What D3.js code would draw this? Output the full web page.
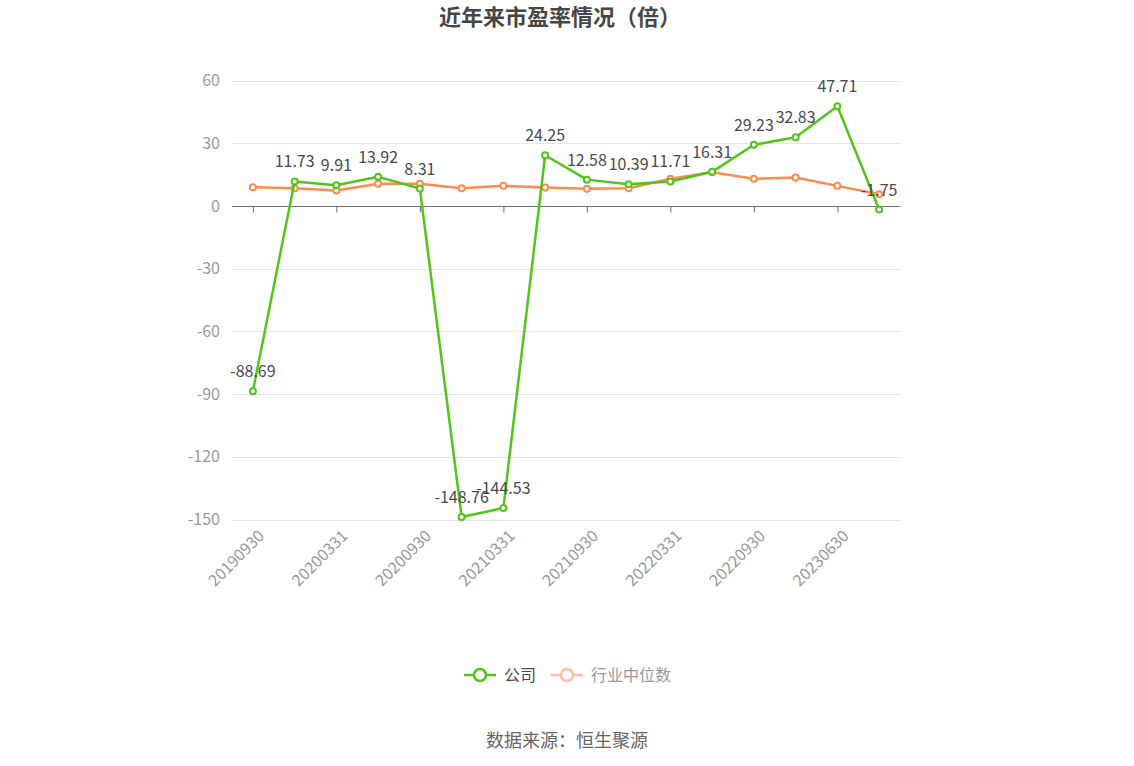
<!DOCTYPE html>
<html>
<head>
<meta charset="utf-8">
<script src="https://cdn.jsdelivr.net/npm/d3@7"></script>
<style>
    body { margin: 0; background: #fff; font-family: "Noto Sans CJK SC", "Noto Sans", sans-serif; }
    svg { display: block; }
</style>
</head>
<body>
<script>
// periods (only every other one is labelled on the axis)
const periods = ["20190930", "20191231", "20200331", "20200630", "20200930", "20201231",
    "20210331", "20210630", "20210930", "20211231", "20220331", "20220630",
    "20220930", "20230331", "20230630", "20230930"];

// company PE
const company = [-88.69, 11.73, 9.91, 13.92, 8.31, -148.76, -144.53, 24.25,
    12.58, 10.39, 11.71, 16.31, 29.23, 32.83, 47.71, -1.75];

// industry median PE
const median = [8.9, 8.5, 7.4, 10.6, 10.6, 8.5, 9.6, 8.8,
    8.2, 8.5, 13.0, 16.1, 13.0, 13.6, 9.6, 5.6];

const yTicks = [-150, -120, -90, -60, -30, 0, 30, 60];

const width = 1134,
    height = 766;

const plotLeft = 232, plotRight = 900, plotTop = 80.5, plotBottom = 519.5;

const svg = d3.select("body").append("svg")
    .attr("width", width)
    .attr("height", height);

const x = d3.scalePoint()
    .domain(periods)
    .range([plotLeft, plotRight])
    .padding(0.5);

const y = d3.scaleLinear()
    .domain([-150, 60])
    .range([plotBottom, plotTop]);

// title
svg.append("text")
    .attr("x", 560)
    .attr("y", 25)
    .attr("text-anchor", "middle")
    .style("font-size", "22px")
    .style("font-weight", "bold")
    .style("fill", "#464646")
    .text("近年来市盈率情况（倍）");

// grid lines
svg.append("g")
    .selectAll("line")
    .data(yTicks.filter(d => d !== 0))
    .enter().append("line")
    .attr("x1", plotLeft)
    .attr("x2", plotRight)
    .attr("y1", d => Math.round(y(d)) + 0.5)
    .attr("y2", d => Math.round(y(d)) + 0.5)
    .attr("stroke", "#e0e6f1")
    .attr("stroke-width", 1);

// y axis labels
svg.append("g")
    .selectAll("text")
    .data(yTicks)
    .enter().append("text")
    .attr("x", plotLeft - 12)
    .attr("y", d => y(d))
    .attr("dy", "0.35em")
    .attr("text-anchor", "end")
    .style("font-size", "16px")
    .style("fill", "#999")
    .text(d => d);

// x axis on zero
const xAxis = d3.axisBottom(x)
    .tickValues(periods.filter((d, i) => i % 2 === 0))
    .tickSize(6)
    .tickFormat("");

const gx = svg.append("g")
    .attr("transform", `translate(0,${Math.round(y(0)) + 0.5})`)
    .call(xAxis);
gx.select(".domain").attr("stroke", "#6e7079").attr("d", `M${plotLeft},0H${plotRight}`);
gx.selectAll(".tick line").attr("stroke", "#6e7079");

// rotated x labels below the plot
svg.append("g")
    .selectAll("text")
    .data(periods.filter((d, i) => i % 2 === 0))
    .enter().append("text")
    .attr("transform", d => `translate(${x(d) + 4},${plotBottom + 9}) rotate(-45)`)
    .attr("text-anchor", "end")
    .attr("dy", "0.75em")
    .style("font-size", "16px")
    .style("fill", "#999")
    .text(d => d);

const series = [
    { name: "公司", values: company, color: "#52c41a" },
    { name: "行业中位数", values: median, color: "#ff8a50" }
];

const line = d3.line()
    .x((d, i) => x(periods[i]))
    .y(d => y(d));

// draw median first so company is on top
series.slice().reverse().forEach(s => {
    const g = svg.append("g");
    g.append("path")
        .datum(s.values)
        .attr("d", line)
        .attr("fill", "none")
        .attr("stroke", s.color)
        .attr("stroke-width", 2.5)
        .attr("stroke-linejoin", "round");
    g.selectAll("circle")
        .data(s.values)
        .enter().append("circle")
        .attr("cx", (d, i) => x(periods[i]))
        .attr("cy", d => y(d))
        .attr("r", 3)
        .attr("fill", "#fff")
        .attr("stroke", s.color)
        .attr("stroke-width", 2);
});

// value labels for company
svg.append("g")
    .selectAll("text")
    .data(company)
    .enter().append("text")
    .attr("x", (d, i) => x(periods[i]))
    .attr("y", d => y(d) - 14)
    .attr("text-anchor", "middle")
    .style("font-size", "16px")
    .style("fill", "#4a4a4a")
    .text(d => d.toFixed(2));

// legend
const legend = svg.append("g").attr("transform", "translate(464,675)");
const items = [
    { name: "公司", color: "#52c41a", text: "#4a4a4a", x: 0 },
    { name: "行业中位数", color: "#ffbfa0", text: "#999", x: 87 }
];
items.forEach(it => {
    const lg = legend.append("g").attr("transform", `translate(${it.x},0)`);
    lg.append("line")
        .attr("x1", 0).attr("x2", 32)
        .attr("stroke", it.color)
        .attr("stroke-width", 2.5);
    lg.append("circle")
        .attr("cx", 16).attr("r", 6)
        .attr("fill", "#fff")
        .attr("stroke", it.color)
        .attr("stroke-width", 2.5);
    lg.append("text")
        .attr("x", 40)
        .attr("dy", "0.35em")
        .style("font-size", "16px")
        .style("fill", it.text)
        .text(it.name);
});

// source
svg.append("text")
    .attr("x", 567)
    .attr("y", 747)
    .attr("text-anchor", "middle")
    .style("font-size", "18px")
    .style("fill", "#666")
    .text("数据来源：恒生聚源");
</script>
</body>
</html>
